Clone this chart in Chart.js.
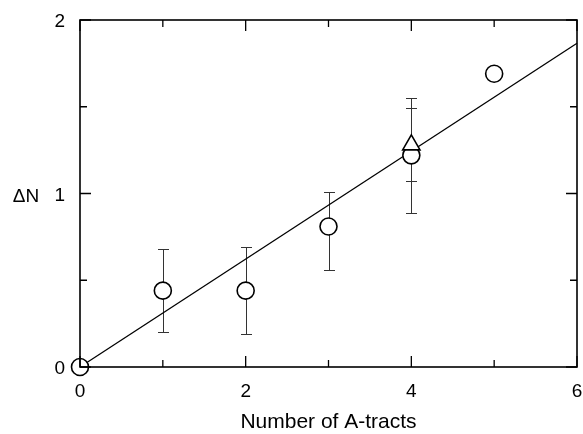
<!DOCTYPE html>
<html>
<head>
<meta charset="utf-8">
<script src="https://cdn.jsdelivr.net/npm/chart.js@4.4.0/dist/chart.umd.min.js"></script>
<style>
html,body{margin:0;padding:0;background:#fff;}
#wrap{width:583px;height:434px;}
</style>
</head>
<body>
<div id="wrap"><canvas id="c" width="583" height="434"></canvas></div>
<script>
// Data
const circleX = [0, 1, 2, 3, 4, 5];
const circleY = [0, 0.44, 0.44, 0.81, 1.22, 1.69];
const circleErrUp = [0, 0.24, 0.25, 0.20, 0.33, 0];
const circleErrDown = [0, 0.24, 0.25, 0.25, 0.33, 0];
const triangleX = [4];
const triangleY = [1.28];
const triangleErr = [0.21];
const fitX = [0, 6];
const fitY = [0, 1.866];
const xTickLabels = [0, 2, 4, 6];
const yTickLabels = [0, 1, 2];
const xTitle = 'Number of A-tracts';
const yTitle = 'ΔN';

const FONT = '19px "Liberation Sans", Arial, sans-serif';
const TITLE_FONT = '21px "Liberation Sans", Arial, sans-serif';

const decor = {
  id: 'decor',
  beforeDatasetsDraw(chart) {
    const ctx = chart.ctx, xs = chart.scales.x, ys = chart.scales.y;
    ctx.save();
    ctx.strokeStyle = '#333';
    ctx.lineWidth = 1;
    const cap = 5.5;
    const bars = [];
    circleX.forEach((x, i) => { if (circleErrUp[i] || circleErrDown[i]) bars.push([x, circleY[i] + circleErrUp[i], circleY[i] - circleErrDown[i]]); });
    triangleX.forEach((x, i) => bars.push([x, triangleY[i] + triangleErr[i], triangleY[i] - triangleErr[i]]));
    bars.forEach(([x, hi, lo]) => {
      const px = Math.round(xs.getPixelForValue(x)) + 0.5;
      const ph = Math.round(ys.getPixelForValue(hi)) + 0.5;
      const pl = Math.round(ys.getPixelForValue(lo)) + 0.5;
      ctx.beginPath();
      ctx.moveTo(px, ph); ctx.lineTo(px, pl);
      ctx.moveTo(px - cap, ph); ctx.lineTo(px + cap, ph);
      ctx.moveTo(px - cap, pl); ctx.lineTo(px + cap, pl);
      ctx.stroke();
    });
    ctx.restore();
  },
  afterDatasetsDraw(chart) {
    const ctx = chart.ctx, xs = chart.scales.x, ys = chart.scales.y;
    const a = chart.chartArea;
    ctx.save();
    ctx.strokeStyle = '#000';
    ctx.lineWidth = 1.6;
    ctx.strokeRect(a.left, a.top, a.right - a.left, a.bottom - a.top);
    const major = 11, minor = 7;
    ctx.lineWidth = 1.3;
    ctx.beginPath();
    for (let v = 0; v <= 6; v += 1) {
      const px = xs.getPixelForValue(v);
      const len = (v % 2 === 0) ? major : minor;
      ctx.moveTo(px, a.bottom); ctx.lineTo(px, a.bottom - len);
      ctx.moveTo(px, a.top); ctx.lineTo(px, a.top + len);
    }
    for (let v = 0; v <= 2.001; v += 0.5) {
      const py = ys.getPixelForValue(v);
      const len = (Math.abs(v - Math.round(v)) < 1e-6) ? major : minor;
      ctx.moveTo(a.left, py); ctx.lineTo(a.left + len, py);
      ctx.moveTo(a.right, py); ctx.lineTo(a.right - len, py);
    }
    ctx.stroke();

    ctx.fillStyle = '#000';
    ctx.font = FONT;
    ctx.textBaseline = 'middle';
    ctx.textAlign = 'center';
    xTickLabels.forEach(v => ctx.fillText(String(v), xs.getPixelForValue(v), a.bottom + 25));
    ctx.textAlign = 'right';
    yTickLabels.forEach(v => ctx.fillText(String(v), a.left - 15, ys.getPixelForValue(v) + 2));
    ctx.textAlign = 'center';
    ctx.fillText(yTitle, 26, ys.getPixelForValue(1) + 3);
    ctx.font = TITLE_FONT;
    ctx.fillText(xTitle, (a.left + a.right) / 2, a.bottom + 55);
    ctx.restore();
  }
};

new Chart(document.getElementById('c'), {
  type: 'scatter',
  data: {
    datasets: [
      {
        label: 'fit',
        data: fitX.map((x, i) => ({x, y: fitY[i]})),
        showLine: true,
        borderColor: '#000',
        borderWidth: 1.3,
        pointRadius: 0,
        fill: false,
        clip: false,
        order: 3
      },
      {
        label: 'circles',
        data: circleX.map((x, i) => ({x, y: circleY[i]})),
        pointStyle: 'circle',
        pointRadius: 8.5,
        borderWidth: 1.6,
        borderColor: '#000',
        backgroundColor: '#fff',
        clip: false,
        order: 2
      },
      {
        label: 'triangles',
        data: triangleX.map((x, i) => ({x, y: triangleY[i]})),
        pointStyle: 'triangle',
        pointRadius: 10,
        borderWidth: 1.6,
        borderColor: '#000',
        backgroundColor: '#fff',
        clip: false,
        order: 1
      }
    ]
  },
  options: {
    responsive: false,
    animation: false,
    devicePixelRatio: 1,
    layout: { autoPadding: false, padding: { left: 80, top: 20, right: 6, bottom: 67 } },
    plugins: { legend: { display: false }, tooltip: { enabled: false } },
    scales: {
      x: { type: 'linear', min: 0, max: 6, display: false },
      y: { type: 'linear', min: 0, max: 2, display: false }
    }
  },
  plugins: [decor]
});
</script>
</body>
</html>
